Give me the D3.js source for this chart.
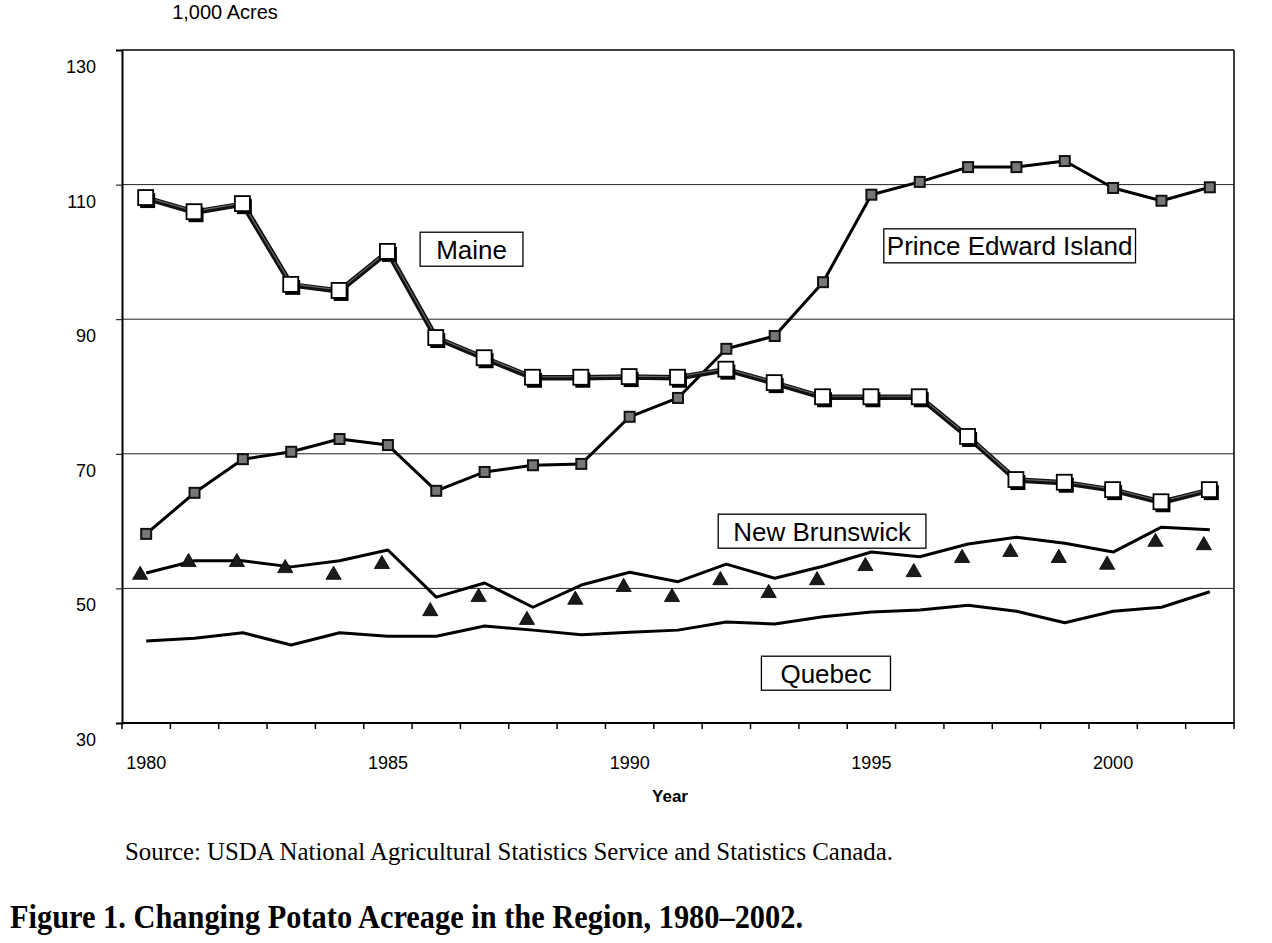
<!DOCTYPE html>
<html>
<head>
<meta charset="utf-8">
<script src="https://cdn.jsdelivr.net/npm/d3@7"></script>
<style>
  body { margin: 0; background: #fff; }
  svg { display: block; }
</style>
</head>
<body>
<svg id="chart" width="1272" height="943"></svg>
<script>
// years on the x axis (one band per year)
var years = [1980, 1981, 1982, 1983, 1984, 1985, 1986, 1987, 1988, 1989, 1990, 1991,
             1992, 1993, 1994, 1995, 1996, 1997, 1998, 1999, 2000, 2001, 2002];
var yearLabels = [1980, 1985, 1990, 1995, 2000];
var yTicks = [30, 50, 70, 90, 110, 130];
var gridValues = [50, 70, 90, 110];

// potato acreage, 1,000 acres
var maine  = [108.0, 105.9, 107.1, 95.1, 94.2, 100.0, 87.2, 84.2, 81.3, 81.3, 81.4, 81.3,
              82.5, 80.5, 78.4, 78.4, 78.4, 72.5, 66.1, 65.7, 64.6, 62.8, 64.6];
var pei    = [58.1, 64.2, 69.2, 70.3, 72.2, 71.3, 64.5, 67.3, 68.3, 68.5, 75.5, 78.3,
              85.6, 87.5, 95.5, 108.5, 110.4, 112.6, 112.6, 113.5, 109.5, 107.6, 109.6];
var nbLine = [52.3, 54.1, 54.1, 53.2, 54.1, 55.7, 48.7, 50.8, 47.2, 50.5, 52.4, 51.0,
              53.6, 51.5, 53.3, 55.4, 54.7, 56.6, 57.6, 56.7, 55.4, 59.1, 58.7];
var nbMarks = [52.0, 53.9, 53.9, 53.0, 52.0, 53.6, 46.6, 48.7, 45.3, 48.3, 50.2, 48.7,
               51.2, 49.3, 51.2, 53.3, 52.4, 54.5, 55.4, 54.5, 53.5, 56.9, 56.4];
var quebec = [42.2, 42.6, 43.4, 41.6, 43.4, 42.9, 42.9, 44.4, 43.8, 43.1, 43.5, 43.8,
              45.0, 44.7, 45.8, 46.5, 46.8, 47.5, 46.6, 44.9, 46.6, 47.2, 49.5];

// boxed series names, anchored in data units (fractional year, value)
var notes = [
  { text: "Maine", year: 1986.73, value: 100.4, pad: 16 },
  { text: "Prince Edward Island", year: 1997.86, value: 100.9, pad: 3 },
  { text: "New Brunswick", year: 1993.98, value: 58.5, pad: 15 },
  { text: "Quebec", year: 1994.06, value: 37.4, pad: 19 }
];

var SANS = "'Liberation Sans', Arial, sans-serif";
var SERIF = "'Liberation Serif', 'Times New Roman', serif";
var TRI_SHIFT = -6;   // triangles sit a little left of the line in the original

var plotL = 122, plotR = 1234, plotT = 50, plotB = 723;

var svg = d3.select("#chart");

var x = d3.scaleBand().domain(years).range([plotL, plotR]).padding(0);
var y = d3.scaleLinear().domain([30, 130]).range([plotB, plotT]);
var half = x.bandwidth() / 2;

function cx(yr) { return x(yr) + half; }
function xAt(frac) { return x(years[0]) + half + (frac - years[0]) * x.step(); }

// grid lines
svg.append("g").selectAll("line")
  .data(gridValues)
  .enter().append("line")
  .attr("x1", plotL).attr("x2", plotR)
  .attr("y1", function(d) { return y(d); })
  .attr("y2", function(d) { return y(d); })
  .style("stroke", "#222")
  .style("stroke-width", 1);

// frame: top and right
svg.append("line").attr("x1", plotL).attr("x2", plotR).attr("y1", plotT).attr("y2", plotT)
  .style("stroke", "#000").style("stroke-width", 1.5);
svg.append("line").attr("x1", plotR).attr("x2", plotR).attr("y1", plotT).attr("y2", plotB)
  .style("stroke", "#000").style("stroke-width", 1.5);

// y axis
var yAxis = svg.append("g")
  .attr("transform", "translate(" + plotL + ",0)")
  .call(d3.axisLeft(y).tickValues(yTicks).tickSize(6).tickPadding(20));
yAxis.select(".domain").style("stroke-width", 2);
yAxis.selectAll("text")
  .style("font-family", SANS).style("font-size", "18px").style("fill", "#000")
  .attr("dy", "1.25em");

// x axis: ticks between the year bands
var xAxis = svg.append("g");
xAxis.append("line")
  .attr("x1", plotL - 1).attr("x2", plotR + 1).attr("y1", plotB).attr("y2", plotB)
  .style("stroke", "#000").style("stroke-width", 2);
xAxis.selectAll("line.tick")
  .data(years.map(function(d) { return x(d); }).concat([plotR]))
  .enter().append("line")
  .attr("class", "tick")
  .attr("x1", function(d) { return d; }).attr("x2", function(d) { return d; })
  .attr("y1", plotB).attr("y2", plotB + 6)
  .style("stroke", "#000").style("stroke-width", 1.5);
xAxis.selectAll("text")
  .data(yearLabels)
  .enter().append("text")
  .attr("x", function(d) { return cx(d); })
  .attr("y", plotB + 46)
  .attr("text-anchor", "middle")
  .style("font-family", SANS).style("font-size", "18px")
  .text(function(d) { return d; });

svg.append("text")
  .attr("x", 670).attr("y", plotB + 79)
  .attr("text-anchor", "middle")
  .style("font-family", SANS).style("font-size", "17px").style("font-weight", "bold")
  .text("Year");

svg.append("text")
  .attr("x", 225).attr("y", 19)
  .attr("text-anchor", "middle")
  .style("font-family", SANS).style("font-size", "20px")
  .text("1,000 Acres");

var line = d3.line()
  .x(function(d, i) { return cx(years[i]); })
  .y(function(d) { return y(d); });

// Quebec
svg.append("path").datum(quebec).attr("d", line)
  .style("fill", "none").style("stroke", "#000").style("stroke-width", 3)
  .style("stroke-linejoin", "round");

// New Brunswick
svg.append("path").datum(nbLine).attr("d", line)
  .style("fill", "none").style("stroke", "#000").style("stroke-width", 3)
  .style("stroke-linejoin", "round");

var tri = d3.symbol().type(d3.symbolTriangle).size(100);
svg.append("g").selectAll("path")
  .data(nbMarks)
  .enter().append("path")
  .attr("d", tri)
  .attr("transform", function(d, i) {
    return "translate(" + (cx(years[i]) + TRI_SHIFT) + "," + y(d) + ")";
  })
  .style("fill", "#1a1a1a").style("stroke", "#000").style("stroke-width", 0.8);

// Prince Edward Island
svg.append("path").datum(pei).attr("d", line)
  .style("fill", "none").style("stroke", "#000").style("stroke-width", 3)
  .style("stroke-linejoin", "round");
svg.append("g").selectAll("rect")
  .data(pei)
  .enter().append("rect")
  .attr("x", function(d, i) { return cx(years[i]) - 5; })
  .attr("y", function(d) { return y(d) - 5; })
  .attr("width", 10).attr("height", 10)
  .style("fill", "#777").style("stroke", "#111").style("stroke-width", 2);

// Maine
svg.append("path").datum(maine).attr("d", line)
  .style("fill", "none").style("stroke", "#111").style("stroke-width", 5.5)
  .style("stroke-linejoin", "round");
svg.append("path").datum(maine).attr("d", line)
  .style("fill", "none").style("stroke", "#666").style("stroke-width", 1.2)
  .attr("transform", "translate(0,-1)");

var maineMarks = svg.append("g").selectAll("g")
  .data(maine)
  .enter().append("g")
  .attr("transform", function(d, i) {
    return "translate(" + cx(years[i]) + "," + y(d) + ")";
  });
maineMarks.append("rect")   // drop shadow
  .attr("x", -6).attr("y", -5).attr("width", 15).attr("height", 15)
  .style("fill", "#000");
maineMarks.append("rect")
  .attr("x", -8).attr("y", -8).attr("width", 15).attr("height", 15)
  .style("fill", "#fff").style("stroke", "#000").style("stroke-width", 1.8);

// boxed labels
var noteG = svg.append("g").selectAll("g")
  .data(notes)
  .enter().append("g")
  .attr("transform", function(d) {
    return "translate(" + xAt(d.year) + "," + y(d.value) + ")";
  });
noteG.append("text")
  .attr("text-anchor", "middle")
  .attr("dy", "0.36em")
  .style("font-family", SANS).style("font-size", "26px")
  .text(function(d) { return d.text; });
noteG.insert("rect", "text")
  .each(function(d) {
    var w = d3.select(this.parentNode).select("text").node().getComputedTextLength();
    d3.select(this)
      .attr("x", -w / 2 - d.pad).attr("y", -17)
      .attr("width", w + 2 * d.pad).attr("height", 34);
  })
  .style("fill", "#fff").style("stroke", "#000").style("stroke-width", 1.3);

// source and caption (the scan is narrow, so squeeze to the original widths)
svg.append("text")
  .attr("x", 125).attr("y", 860)
  .attr("textLength", 768).attr("lengthAdjust", "spacingAndGlyphs")
  .style("font-family", SERIF).style("font-size", "26px")
  .text("Source: USDA National Agricultural Statistics Service and Statistics Canada.");

svg.append("text")
  .attr("x", 10).attr("y", 928)
  .attr("textLength", 793).attr("lengthAdjust", "spacingAndGlyphs")
  .style("font-family", SERIF).style("font-size", "34px").style("font-weight", "bold")
  .text("Figure 1. Changing Potato Acreage in the Region, 1980\u20132002.");
</script>
</body>
</html>
